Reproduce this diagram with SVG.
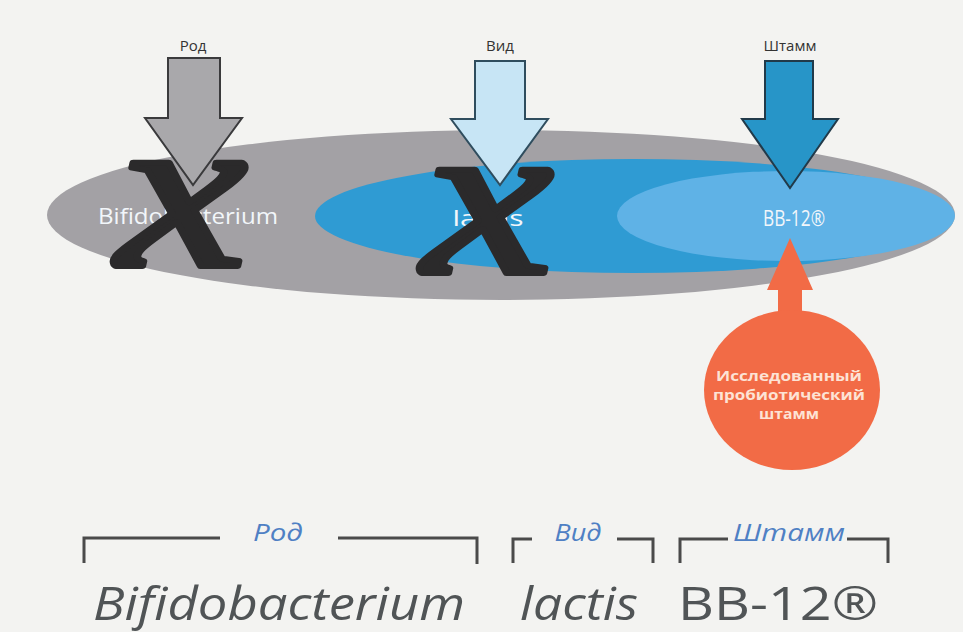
<svg xmlns="http://www.w3.org/2000/svg" width="963" height="632" viewBox="0 0 963 632">
<style>
.top{font-family:"Open Sans","Liberation Sans",sans-serif;font-size:15px;fill:#333;text-anchor:middle}
.inner{font-family:"Open Sans","Liberation Sans",sans-serif;font-size:22px;fill:#f2f6fa;text-anchor:middle}
.xg{font-family:"Liberation Serif",serif;font-style:italic;font-size:225px;fill:#2b2a2b;stroke:#2b2a2b;stroke-width:6;stroke-linejoin:round;text-anchor:middle}
.circ{font-family:"Open Sans","Liberation Sans",sans-serif;font-weight:bold;font-size:15px;fill:#fde3d5;text-anchor:middle}
.lbl{font-family:"Open Sans","Liberation Sans",sans-serif;font-style:italic;font-size:23px;fill:#4f80c4;text-anchor:middle}
.big{font-family:"Open Sans","Liberation Sans",sans-serif;font-size:45px;fill:#505456}
.br{fill:none;stroke:#4a4a4a;stroke-width:3}
.arr{stroke-width:2;stroke-linejoin:miter}
</style>
<rect width="963" height="632" fill="#f3f3f1"/>
<g id="ellipses">
<ellipse id="genus-ellipse" cx="501" cy="215" rx="454" ry="85" fill="#a3a1a5"/>
<ellipse id="species-ellipse" cx="634" cy="216" rx="319" ry="57" fill="#2f9bd3"/>
<ellipse id="strain-ellipse" cx="786" cy="216" rx="169" ry="45" fill="#5fb2e6"/>
</g>
<g id="inner-labels">
<text class="inner" x="188" y="224" textLength="180" lengthAdjust="spacingAndGlyphs">Bifidobacterium</text>
<text class="inner" x="488" y="226" textLength="71" lengthAdjust="spacingAndGlyphs">lactis</text>
<text class="inner" x="794" y="226" font-size="20" textLength="62" lengthAdjust="spacingAndGlyphs">BB-12®</text>
</g>
<g id="crosses">
<text class="xg" transform="translate(182,266) scale(1.3,1)" x="0" y="0">x</text>
<text class="xg" transform="translate(488,273) scale(1.3,1)" x="0" y="0">x</text>
</g>
<g id="connectors">
<path id="arrow-genus" class="arr" d="M168,58 H220 V118 H242 L193,185 L145,118 H168 Z" fill="#a9a8ab" stroke="#3a3a3c"/>
<path id="arrow-species" class="arr" d="M475,61 H525 V119 H548 L500,185 L451,119 H475 Z" fill="#c7e5f5" stroke="#2f4d5e"/>
<path id="arrow-strain" class="arr" d="M765,61 H813 V119 H838 L790,188 L742,119 H765 Z" fill="#2795c8" stroke="#213a4a"/>
<path id="arrow-studied" d="M790,238 L813,290 H802 V322 H778 V290 H767 Z" fill="#f26b46"/>
</g>
<g id="top-labels">
<text class="top" x="193" y="51">Род</text>
<text class="top" x="500" y="51">Вид</text>
<text class="top" x="790" y="51">Штамм</text>
</g>
<g id="studied-strain">
<ellipse cx="792" cy="390" rx="88" ry="80" fill="#f26b46"/>
<text class="circ" x="789" y="381" textLength="146" lengthAdjust="spacingAndGlyphs">Исследованный</text>
<text class="circ" x="789" y="400" textLength="152" lengthAdjust="spacingAndGlyphs">пробиотический</text>
<text class="circ" x="789" y="419" textLength="60" lengthAdjust="spacingAndGlyphs">штамм</text>
</g>
<g id="brackets">
<path class="br" d="M84,563 V538 H220 M338,538 H477 V564"/>
<path class="br" d="M513,563 V539 H532 M617,539 H653 V563"/>
<path class="br" d="M680,563 V539 H728 M847,539 H888 V563"/>
<text class="lbl" x="278" y="541" textLength="50" lengthAdjust="spacingAndGlyphs">Род</text>
<text class="lbl" x="578" y="541" textLength="47" lengthAdjust="spacingAndGlyphs">Вид</text>
<text class="lbl" x="789" y="541" textLength="112" lengthAdjust="spacingAndGlyphs">Штамм</text>
</g>
<g id="bottom-names">
<text class="big" x="93" y="620" font-style="italic" textLength="372" lengthAdjust="spacingAndGlyphs">Bifidobacterium</text>
<text class="big" x="520" y="620" font-style="italic" textLength="118" lengthAdjust="spacingAndGlyphs">lactis</text>
<text class="big" x="678" y="620" textLength="200" lengthAdjust="spacingAndGlyphs">BB-12®</text>
</g>
</svg>
